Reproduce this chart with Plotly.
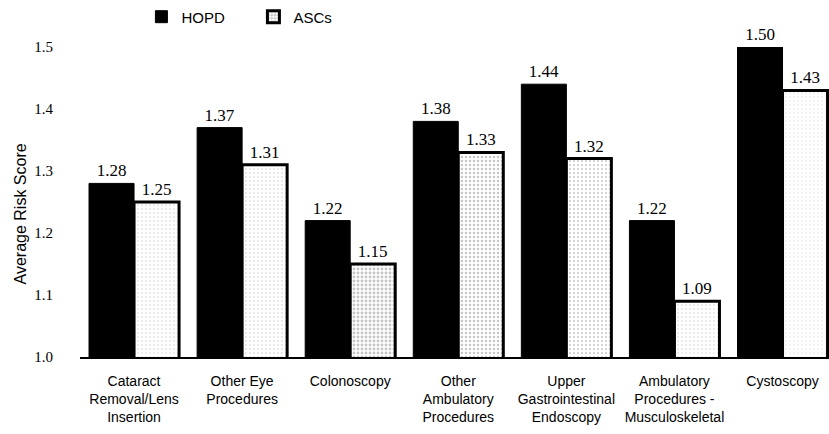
import plotly.graph_objects as go

# Procedure categories (multi-line tick labels)
categories = [
    "Cataract<br>Removal/Lens<br>Insertion",
    "Other Eye<br>Procedures",
    "Colonoscopy",
    "Other<br>Ambulatory<br>Procedures",
    "Upper<br>Gastrointestinal<br>Endoscopy",
    "Ambulatory<br>Procedures -<br>Musculoskeletal",
    "Cystoscopy",
]
hopd_scores = [1.28, 1.37, 1.22, 1.38, 1.44, 1.22, 1.50]
asc_scores = [1.25, 1.31, 1.15, 1.33, 1.32, 1.09, 1.43]
y_ticks = [1.0, 1.1, 1.2, 1.3, 1.4, 1.5]

# stipple density for the ASC bars
asc_stipple = [0.08, 0.10, 0.40, 0.30, 0.20, 0.08, 0.06]

SERIF = "Liberation Serif, Times New Roman, serif"
SANS = "Liberation Sans, Arial, sans-serif"

x_idx = list(range(len(categories)))

fig = go.Figure()
fig.add_trace(go.Bar(
    name="HOPD",
    x=x_idx,
    y=hopd_scores,
    base=0,
    marker=dict(color="black", line=dict(color="black", width=1)),
    texttemplate="%{y:.2f}",
    textposition="outside",
    textfont=dict(family=SERIF, size=17, color="black"),
    cliponaxis=False,
))
fig.add_trace(go.Bar(
    name="ASCs",
    x=x_idx,
    y=asc_scores,
    base=0,
    marker=dict(
        color="white",
        line=dict(color="black", width=3),
        pattern=dict(shape=".", fgcolor="#8c8c8c", bgcolor="white",
                     size=4, solidity=asc_stipple, fillmode="overlay"),
    ),
    texttemplate="%{y:.2f}",
    textposition="outside",
    textfont=dict(family=SERIF, size=17, color="black"),
    cliponaxis=False,
))

fig.update_layout(
    width=829,
    height=434,
    margin=dict(l=80, r=0, t=47, b=77),
    paper_bgcolor="white",
    plot_bgcolor="white",
    barmode="group",
    bargap=0.167,
    bargroupgap=0,
    showlegend=True,
    legend=dict(
        orientation="h",
        x=0.082, y=1.097,
        xanchor="left", yanchor="middle",
        font=dict(family=SANS, size=15, color="black"),
        entrywidth=67,
        bgcolor="rgba(0,0,0,0)",
    ),
    xaxis=dict(
        range=[-0.5, 6.43],
        tickmode="array",
        tickvals=x_idx,
        ticktext=categories,
        tickfont=dict(family=SANS, size=14, color="black"),
        ticklabelstandoff=10,
        showline=True,
        linecolor="black",
        linewidth=2,
        ticks="",
        showgrid=False,
        zeroline=False,
    ),
    yaxis=dict(
        range=[1.0, 1.5],
        tickmode="array",
        tickvals=y_ticks,
        ticktext=[f"{v:.1f}" for v in y_ticks],
        tickfont=dict(family=SERIF, size=15, color="black"),
        ticklabelstandoff=26,
        showline=False,
        showgrid=False,
        zeroline=False,
        ticks="",
    ),
    annotations=[dict(
        text="Average Risk Score",
        x=-0.08, y=0.46,
        xref="paper", yref="paper",
        xanchor="center", yanchor="middle",
        textangle=-90,
        showarrow=False,
        font=dict(family=SANS, size=16, color="black"),
    )],
)

fig.write_html("out.html")
